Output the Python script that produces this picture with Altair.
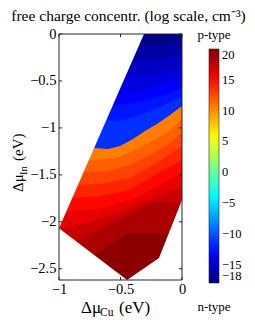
import altair as alt
import pandas as pd

# ---------------- data ----------------
x_ticks = [-1.0, -0.5, 0.0]
y_ticks = [0.0, -0.5, -1.0, -1.5, -2.0, -2.5]
x_lim = [-1.0, 0.0]
y_lim = [-2.62, 0.0]
cbar_ticks = [-18, -15, -10, -5, 0, 5, 10, 15, 20]

# stability region vertices (outside of it is blank)
mask_top_x = [-1.0, -0.309]
mask_top_y = [0.0, 0.0]
mask_top_y2 = [-2.07, 0.0]
mask_bot_x = [-1.0, -0.447, -0.187, 0.0]
mask_bot_y = [-2.07, -2.62, -2.386, -1.768]

# filled contour bands: value of band (log10 free charge) below each contour line
bg_value = -17.5
band_values = [-16.5, -15.5, -14.5, -13.5, -12.5, -11.5,
               10.6, 11.7, 12.8, 13.9, 15.0, 16.1, 17.2, 18.3, 19.5]
band_x = [
    [-1, -0.350, -0.179, 0],
    [-1, -0.398, -0.260, -0.138, 0],
    [-1, -0.455, -0.301, -0.138, 0],
    [-1, -0.504, -0.341, -0.179, 0],
    [-1, -0.561, -0.423, -0.260, -0.098, 0],
    [-1, -0.618, -0.504, -0.341, -0.179, 0],
    [-1, -0.707, -0.602, -0.504, -0.398, -0.301, -0.203, -0.098, 0],
    [-1, -0.756, -0.602, -0.504, -0.301, -0.098, 0],
    [-1, -0.797, -0.602, -0.423, -0.260, -0.098, 0],
    [-1, -0.846, -0.667, -0.423, -0.220, 0],
    [-1, -0.894, -0.667, -0.423, -0.179, 0],
    [-1, -0.943, -0.667, -0.382, -0.179, 0],
    [-1, -0.748, -0.423, -0.179, 0],
    [-1, -0.870, -0.244, 0],
    [-1, -0.707, -0.447, 0],
]
band_y = [
    [-0.117, -0.117, -0.128, -0.085],
    [-0.277, -0.277, -0.277, -0.256, -0.192],
    [-0.437, -0.437, -0.437, -0.394, -0.320],
    [-0.596, -0.596, -0.586, -0.533, -0.447],
    [-0.756, -0.756, -0.746, -0.692, -0.628, -0.575],
    [-0.916, -0.916, -0.927, -0.863, -0.777, -0.671],
    [-1.214, -1.214, -1.225, -1.193, -1.118, -1.033, -0.959, -0.863, -0.767],
    [-1.342, -1.342, -1.331, -1.310, -1.182, -1.033, -0.905],
    [-1.470, -1.470, -1.459, -1.395, -1.289, -1.161, -1.054],
    [-1.608, -1.608, -1.598, -1.534, -1.385, -1.193],
    [-1.747, -1.747, -1.725, -1.661, -1.470, -1.342],
    [-1.896, -1.896, -1.864, -1.747, -1.608, -1.480],
    [-2.077, -2.002, -1.853, -1.715, -1.629],
    [-2.215, -2.215, -1.800, -1.800],
    [-2.354, -2.354, -2.119, -2.119],
]

# jet colour map anchors
jet_domain = [-18, -13.25, -3.75, 5.75, 15.25, 20]
jet_range = ["#00007f", "#0000ff", "#00ffff", "#ffff00", "#ff0000", "#7f0000"]

# ---------------- chart ----------------
W, H = 123, 246
SERIF = "Liberation Serif, serif"
INK = "#262626"
MINUS_EXPR = "datum.value < 0 ? '\u2212' + toString(-datum.value) : toString(datum.value)"

xs = alt.Scale(domain=x_lim, nice=False, zero=False)
ys = alt.Scale(domain=[y_lim[0], y_lim[1]], nice=False, zero=False)
cs = alt.Scale(domain=jet_domain, range=jet_range, interpolate="rgb")

x_axis = alt.Axis(values=x_ticks, title=None, domain=False, ticks=False, grid=False,
                  labelFlush=False, labelPadding=2, labelFont=SERIF, labelFontSize=14.5,
                  labelColor="black", labelExpr=MINUS_EXPR)
y_axis = alt.Axis(values=y_ticks, title=None, domain=False, ticks=False, grid=False,
                  labelFlush=False, labelPadding=3, labelFont=SERIF, labelFontSize=14.5,
                  labelColor="black", labelExpr=MINUS_EXPR)
legend = alt.Legend(orient="none", legendX=150, legendY=15, direction="vertical",
                    gradientLength=234, gradientThickness=10, values=cbar_ticks,
                    title=None, labelFont=SERIF, labelFontSize=12.5, labelColor="black",
                    labelOffset=3, labelBaseline="middle", labelOverlap=False,
                    labelExpr=MINUS_EXPR,
                    gradientStrokeColor=INK, gradientStrokeWidth=0.6, padding=0)

Y_BOTTOM = y_lim[0]


def band_layer(xv, yv, v):
    df = pd.DataFrame({"x": xv, "y": yv, "y2": [Y_BOTTOM] * len(xv), "v": [v] * len(xv)})
    return alt.Chart(df).mark_area(interpolate="linear").encode(
        x=alt.X("x:Q", scale=xs, axis=x_axis),
        y=alt.Y("y:Q", scale=ys, axis=y_axis, stack=None),
        y2="y2:Q",
        color=alt.Color("v:Q", scale=cs, legend=legend),
    )


layers = [band_layer(x_lim, [0.0, 0.0], bg_value)]
for xv, yv, v in zip(band_x, band_y, band_values):
    layers.append(band_layer(xv, yv, v))

# blank outside the stability region
mask_top = alt.Chart(pd.DataFrame({"x": mask_top_x, "y": mask_top_y, "y2": mask_top_y2})).mark_area(
    color="white").encode(x=alt.X("x:Q", scale=xs, axis=x_axis),
                          y=alt.Y("y:Q", scale=ys, axis=y_axis, stack=None), y2="y2:Q")
mask_bot = alt.Chart(pd.DataFrame({"x": mask_bot_x, "y": mask_bot_y,
                                   "y2": [Y_BOTTOM] * len(mask_bot_x)})).mark_area(
    color="white").encode(x=alt.X("x:Q", scale=xs, axis=x_axis),
                          y=alt.Y("y:Q", scale=ys, axis=y_axis, stack=None), y2="y2:Q")
layers += [mask_top, mask_bot]

# box
layers.append(alt.Chart(pd.DataFrame({"x": x_lim})).mark_rule(color=INK, strokeWidth=1).encode(
    x=alt.X("x:Q", scale=xs, axis=x_axis)))
layers.append(alt.Chart(pd.DataFrame({"y": y_lim})).mark_rule(color=INK, strokeWidth=1).encode(
    y=alt.Y("y:Q", scale=ys, axis=y_axis)))

# inward ticks
dxt = pd.DataFrame({"x": x_ticks})
dyt = pd.DataFrame({"y": y_ticks})
layers.append(alt.Chart(dxt).mark_rule(color=INK).encode(
    x=alt.X("x:Q", scale=xs, axis=x_axis), y=alt.value(H), y2=alt.value(H - 3)))
layers.append(alt.Chart(dxt).mark_rule(color=INK).encode(
    x=alt.X("x:Q", scale=xs, axis=x_axis), y=alt.value(0), y2=alt.value(3)))
layers.append(alt.Chart(dyt).mark_rule(color=INK).encode(
    y=alt.Y("y:Q", scale=ys, axis=y_axis), x=alt.value(0), x2=alt.value(3)))
layers.append(alt.Chart(dyt).mark_rule(color=INK).encode(
    y=alt.Y("y:Q", scale=ys, axis=y_axis), x=alt.value(W), x2=alt.value(W - 3)))


def text(t, x, y, size, align="left", angle=0, baseline="alphabetic"):
    return alt.Chart(pd.DataFrame({"t": [t]})).mark_text(
        font=SERIF, fontSize=size, align=align, baseline=baseline, angle=angle, color="black"
    ).encode(x=alt.value(x), y=alt.value(y), text="t:N")


layers += [
    text("free charge concentr. (log scale, cm⁻³)", 69.5, -13, 15.5, align="center"),
    text("p-type", 155, 5, 13, align="center"),
    text("n-type", 155, 277, 13, align="center"),
    # x title
    text("Δμ", 22, 279, 17),
    text("Cu", 41, 282, 11.5),
    text("(eV)", 60, 279, 17),
    # y title (rotated)
    text("Δμ", -36, 158, 15, angle=270),
    text("In", -32.5, 141, 10.5, angle=270),
    text("(eV)", -36, 127, 15, angle=270),
]

chart = alt.layer(*layers).properties(
    width=W, height=H,
    autosize=alt.AutoSizeParams(type="none"),
    padding={"left": 51, "top": 26, "right": 65, "bottom": 39},
).configure_view(stroke=None)

chart.save("out.html", embed_options={"renderer": "svg", "actions": False})
